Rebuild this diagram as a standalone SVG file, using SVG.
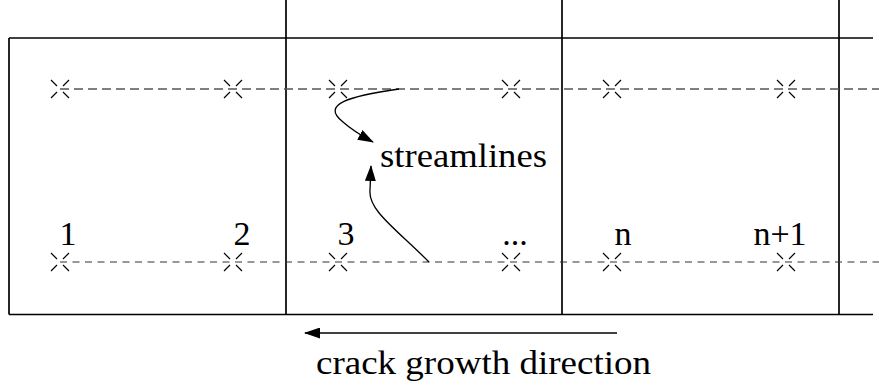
<svg xmlns="http://www.w3.org/2000/svg" width="879" height="391" viewBox="0 0 879 391">
<style>
.frame{stroke:#000;stroke-width:1.7;fill:none}
.dtop{stroke:#555;stroke-width:1.6;stroke-dasharray:9 5;fill:none}
.dbot{stroke:#333;stroke-width:1.1;stroke-dasharray:7 5.5;fill:none}
.crs{stroke:#000;stroke-width:1.2;fill:none}
.lbl{font-family:'Liberation Serif','Times New Roman','DejaVu Serif',serif;font-size:34px;fill:#000}
.conn{stroke:#000;stroke-width:1.3;fill:none}
</style>
<defs>
<marker id="ah" viewBox="0 0 16 11" refX="15" refY="5.5" markerWidth="16" markerHeight="11" markerUnits="userSpaceOnUse" orient="auto">
<path d="M0,0 L16,5.5 L0,11 Z" fill="#000"/>
</marker>
<g id="x"><path class="crs" d="M-9,-9 L-3,-3 M9,-9 L3,-3 M-9,9 L-3,3 M9,9 L3,3"/></g>
</defs>
<g id="frame">
<line class="frame" x1="9" y1="38" x2="873" y2="38"/>
<line class="frame" x1="9" y1="314.5" x2="873" y2="314.5"/>
<line class="frame" x1="9" y1="38" x2="9" y2="314.5"/>
<line class="frame" x1="286" y1="0" x2="286" y2="314.5"/>
<line class="frame" x1="562" y1="0" x2="562" y2="314.5"/>
<line class="frame" x1="839" y1="0" x2="839" y2="314.5"/>
</g>
<g id="streamline-top">
<line class="dtop" x1="60" y1="89" x2="879" y2="89"/>
<use href="#x" x="60" y="89"/><use href="#x" x="233" y="89"/><use href="#x" x="338" y="89"/>
<use href="#x" x="511" y="89"/><use href="#x" x="612" y="89"/><use href="#x" x="786" y="89"/>
</g>
<g id="streamline-bottom">
<line class="dbot" x1="60" y1="262" x2="879" y2="262"/>
<use href="#x" x="60" y="262"/><use href="#x" x="233" y="262"/><use href="#x" x="338" y="262"/>
<use href="#x" x="511" y="262"/><use href="#x" x="612" y="262"/><use href="#x" x="786" y="262"/>
</g>
<g id="labels" font-family="'Liberation Serif', serif" font-size="34">
<text class="lbl" x="68" y="245" text-anchor="middle">1</text>
<text class="lbl" x="242" y="245" text-anchor="middle">2</text>
<text class="lbl" x="346" y="245" text-anchor="middle">3</text>
<text class="lbl" x="515" y="245" text-anchor="middle">...</text>
<text class="lbl" x="623" y="245" text-anchor="middle">n</text>
<text class="lbl" x="780" y="245" text-anchor="middle">n+1</text>
<text id="streamlines" class="lbl" x="380" y="167" textLength="167" lengthAdjust="spacingAndGlyphs">streamlines</text>
<text id="direction" class="lbl" x="316" y="374" textLength="335" lengthAdjust="spacingAndGlyphs">crack growth direction</text>
</g>
<g id="connectors">
<path class="conn" d="M399,89 C350,96 320,104 343,122 C352,130 360,135 373,142" marker-end="url(#ah)"/>
<path class="conn" d="M429,262 C395,228 368,210 370,190 L371,166" marker-end="url(#ah)"/>
<line class="conn" x1="617" y1="333" x2="305" y2="333" stroke-width="1.7" marker-end="url(#ah)"/>
</g>
</svg>
